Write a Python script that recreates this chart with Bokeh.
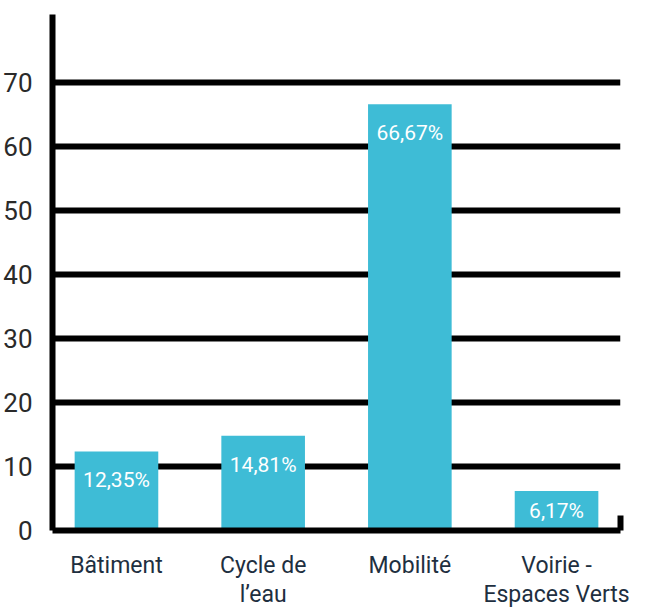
from bokeh.plotting import figure
from bokeh.models import (ColumnDataSource, FixedTicker, LinearAxis, Range1d, FactorRange,
                          CategoricalAxis, CustomJSTickFormatter)
from bokeh.embed import file_html
from bokeh.resources import INLINE
from bokeh.core.properties import value

categories = ["Bâtiment", "Cycle de l\u2019eau", "Mobilité", "Voirie - Espaces Verts"]
label_line1 = ["Bâtiment", "Cycle de", "Mobilité", "Voirie -"]
label_line2 = ["", "l\u2019eau", "", "Espaces Verts"]
shares = [12.35, 14.81, 66.67, 6.17]
share_labels = ["12,35%", "14,81%", "66,67%", "6,17%"]
y_ticks = [0, 10, 20, 30, 40, 50, 60, 70]

label_y = [v - 4.5 if v > 9 else v / 2 for v in shares]
src = ColumnDataSource(dict(cat=categories, val=shares, lab=share_labels, ly=label_y))

p = figure(
    x_range=FactorRange(*categories, range_padding=-0.032),
    y_range=Range1d(0, 80.7),
    frame_width=568, frame_height=516,
    min_border_left=46, min_border_top=14, min_border_right=15, min_border_bottom=40,
    output_backend="svg", toolbar_location=None,
)
p.outline_line_color = None
p.background_fill_color = "white"
p.border_fill_color = "white"

p.vbar(x="cat", top="val", width=0.57, source=src, color="#3EBCD6", line_color=None)
p.text(x="cat", y="ly", text="lab", source=src, text_color="white",
       text_align="center", text_baseline="middle",
       text_font=value("Roboto"), text_font_size="21px")

# y axis
p.yaxis.ticker = FixedTicker(ticks=y_ticks)
p.yaxis.axis_line_width = 6
p.yaxis.axis_line_color = "black"
p.yaxis.major_tick_line_color = None
p.yaxis.minor_tick_line_color = None
p.yaxis.major_label_text_font = "Roboto"
p.yaxis.major_label_text_font_style = "normal"
p.yaxis.major_label_text_font_size = "26px"
p.yaxis.major_label_text_color = "#2a2a2a"
p.yaxis.major_label_standoff = 14

def line_formatter(lines):
    return CustomJSTickFormatter(args=dict(cats=categories, lines=lines),
                                 code="const i = cats.indexOf(tick); return i < 0 ? '' : lines[i];")

# x axis: first line of category labels
xa = p.xaxis[0]
xa.axis_line_width = 6
xa.axis_line_color = "black"
xa.major_tick_line_color = None
xa.major_label_text_font = "Roboto"
xa.major_label_text_font_size = "23px"
xa.major_label_text_color = "#1E2F40"
xa.major_label_standoff = 15
xa.formatter = line_formatter(label_line1)

# second line of category labels
xa2 = CategoricalAxis(axis_line_color=None, major_tick_line_color=None,
                      major_label_text_font="Roboto", major_label_text_font_size="23px",
                      major_label_text_color="#1E2F40", major_label_standoff=-7,
                      formatter=line_formatter(label_line2))
p.add_layout(xa2, "below")

p.xgrid.grid_line_color = None
p.ygrid.ticker = FixedTicker(ticks=y_ticks)
p.ygrid.grid_line_color = "black"
p.ygrid.grid_line_width = 6

# small end tick at the right of the category axis
end_axis = LinearAxis(bounds=(0, 2.4), ticker=FixedTicker(ticks=[]),
                      axis_line_width=6, axis_line_color="black",
                      major_label_text_font_size="0px", major_tick_line_color=None,
                      minor_tick_line_color=None)
p.add_layout(end_axis, "right")

open("out.html", "w").write(file_html(p, INLINE))
